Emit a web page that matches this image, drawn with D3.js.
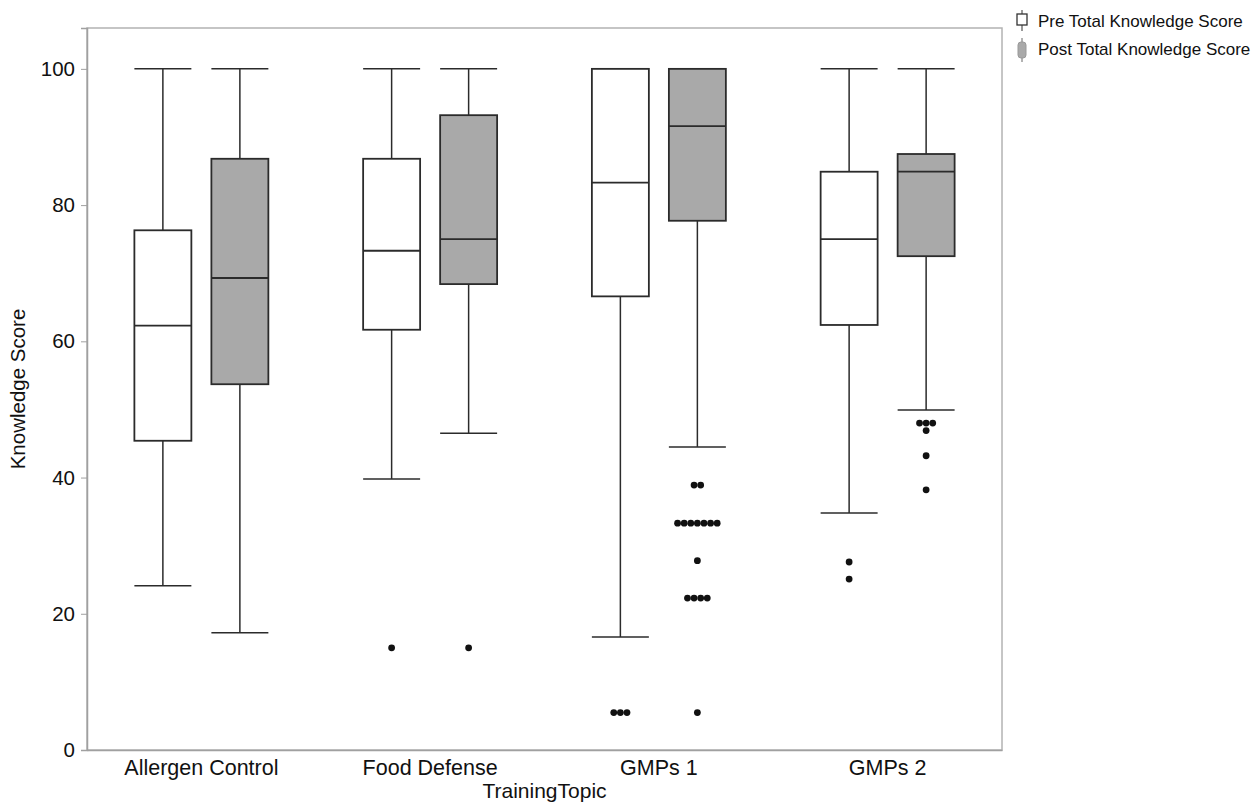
<!DOCTYPE html>
<html>
<head>
<meta charset="utf-8">
<script src="https://cdn.jsdelivr.net/npm/d3@7"></script>
<style>
  body { margin: 0; background: #fff; }
  text { font-family: "Liberation Sans", Arial, Helvetica, sans-serif; fill: #111; }
</style>
</head>
<body>
<svg id="chart" width="1256" height="805"></svg>
<script>
// categories and series
const topics = ["Allergen Control", "Food Defense", "GMPs 1", "GMPs 2"];
const series = ["Pre Total Knowledge Score", "Post Total Knowledge Score"];
const yTicks = [0, 20, 40, 60, 80, 100];

// box statistics, one value per topic
const preLow    = [24.1, 39.8, 16.6, 34.8];
const preQ1     = [45.4, 61.7, 66.6, 62.4];
const preMedian = [62.3, 73.3, 83.3, 75.0];
const preQ3     = [76.3, 86.8, 100, 84.9];
const preHigh   = [100, 100, 100, 100];
const preOutliers = [[], [15.0], [5.5, 5.5, 5.5], [27.6, 25.1]];

const postLow    = [17.2, 46.5, 44.5, 49.9];
const postQ1     = [53.7, 68.4, 77.7, 72.5];
const postMedian = [69.3, 75.0, 91.6, 84.9];
const postQ3     = [86.8, 93.2, 100, 87.5];
const postHigh   = [100, 100, 100, 100];
const postOutliers = [
  [],
  [15.0],
  [38.9, 38.9, 33.3, 33.3, 33.3, 33.3, 33.3, 33.3, 33.3, 27.8, 22.3, 22.3, 22.3, 22.3, 5.5],
  [48.0, 48.0, 48.0, 46.9, 43.2, 38.2]
];

const fills = ["#ffffff", "#a9a9a9"];

var svg = d3.select("#chart");
var margin = { left: 87, right: 254, top: 28, bottom: 55 };
var W = 1256, H = 805;

var x = d3.scaleBand().domain(topics).range([margin.left, W - margin.right]);
var bw = x.bandwidth();
var xs = d3.scaleBand().domain(series).range([bw / 2 - 77, bw / 2 + 77]);
var boxW = xs.bandwidth() * 0.74;
var y = d3.scaleLinear().domain([0, 106]).range([H - margin.bottom, margin.top]);

// frame
svg.append("rect")
  .attr("x", margin.left).attr("y", margin.top)
  .attr("width", W - margin.right - margin.left)
  .attr("height", H - margin.bottom - margin.top)
  .attr("fill", "none")
  .attr("stroke", "#b3b3b3")
  .attr("stroke-width", 1.5);

// axes
var yAxis = svg.append("g")
  .attr("transform", "translate(" + margin.left + ",0)")
  .call(d3.axisLeft(y).tickValues(yTicks).tickSize(6).tickPadding(6));
yAxis.select(".domain").attr("stroke", "#a0a0a0").attr("stroke-width", 1.5);
yAxis.selectAll(".tick line").attr("stroke", "#a0a0a0");
yAxis.selectAll(".tick text").style("font-size", "20.5px").style("fill", "#111");

var xAxis = svg.append("g")
  .attr("transform", "translate(0," + (H - margin.bottom) + ")")
  .call(d3.axisBottom(x).tickSize(0).tickPadding(10));
xAxis.select(".domain").attr("stroke", "#a0a0a0").attr("stroke-width", 1.5);
xAxis.selectAll(".tick text").style("font-size", "21.5px").style("fill", "#111");

// axis titles
svg.append("text")
  .attr("transform", "translate(25," + y(53) + ") rotate(-90)")
  .attr("text-anchor", "middle")
  .style("font-size", "20.5px")
  .text("Knowledge Score");
svg.append("text")
  .attr("x", (margin.left + W - margin.right) / 2)
  .attr("y", 798)
  .attr("text-anchor", "middle")
  .style("font-size", "21px")
  .text("TrainingTopic");

// build box rows
var boxes = [];
topics.forEach((t, i) => {
  boxes.push({ topic: t, s: 0, low: preLow[i], q1: preQ1[i], med: preMedian[i], q3: preQ3[i], high: preHigh[i], out: preOutliers[i] });
  boxes.push({ topic: t, s: 1, low: postLow[i], q1: postQ1[i], med: postMedian[i], q3: postQ3[i], high: postHigh[i], out: postOutliers[i] });
});

var stroke = "#2b2b2b";
var g = svg.append("g");
var bx = g.selectAll("g.box")
  .data(boxes)
  .enter()
  .append("g")
  .attr("class", "box")
  .attr("transform", (d) => "translate(" + (x(d.topic) + xs(series[d.s]) + xs.bandwidth() / 2) + ",0)");

// whiskers
bx.append("line")
  .attr("x1", 0).attr("x2", 0)
  .attr("y1", (d) => y(d.high)).attr("y2", (d) => y(d.q3))
  .attr("stroke", stroke).attr("stroke-width", 1.5);
bx.append("line")
  .attr("x1", 0).attr("x2", 0)
  .attr("y1", (d) => y(d.q1)).attr("y2", (d) => y(d.low))
  .attr("stroke", stroke).attr("stroke-width", 1.5);
bx.append("line")
  .attr("x1", -boxW / 2).attr("x2", boxW / 2)
  .attr("y1", (d) => y(d.high)).attr("y2", (d) => y(d.high))
  .attr("stroke", stroke).attr("stroke-width", 1.5);
bx.append("line")
  .attr("x1", -boxW / 2).attr("x2", boxW / 2)
  .attr("y1", (d) => y(d.low)).attr("y2", (d) => y(d.low))
  .attr("stroke", stroke).attr("stroke-width", 1.5);

// box
bx.append("rect")
  .attr("x", -boxW / 2)
  .attr("width", boxW)
  .attr("y", (d) => y(d.q3))
  .attr("height", (d) => y(d.q1) - y(d.q3))
  .attr("fill", (d) => fills[d.s])
  .attr("stroke", stroke).attr("stroke-width", 1.8);
bx.append("line")
  .attr("x1", -boxW / 2).attr("x2", boxW / 2)
  .attr("y1", (d) => y(d.med)).attr("y2", (d) => y(d.med))
  .attr("stroke", stroke).attr("stroke-width", 1.8);

// outliers: equal values are spread side by side
var spacing = 6.6;
bx.each(function (d) {
  var counts = d3.rollup(d.out, (v) => v.length, (v) => v);
  var seen = new Map();
  var pts = d.out.map((v) => {
    var k = seen.get(v) || 0;
    seen.set(v, k + 1);
    var n = counts.get(v);
    return { v: v, dx: (k - (n - 1) / 2) * spacing };
  });
  d3.select(this).selectAll("circle")
    .data(pts)
    .enter()
    .append("circle")
    .attr("cx", (p) => p.dx)
    .attr("cy", (p) => y(p.v))
    .attr("r", 3.4)
    .attr("fill", "#111");
});

// legend
var lg = svg.append("g").attr("transform", "translate(1022,0)");
lg.append("line").attr("x1", 0).attr("x2", 0).attr("y1", 10).attr("y2", 31)
  .attr("stroke", "#333").attr("stroke-width", 1);
lg.append("rect").attr("x", -5).attr("y", 14).attr("width", 10).attr("height", 11)
  .attr("fill", "#fff").attr("stroke", "#333").attr("stroke-width", 1.3);
lg.append("line").attr("x1", 0).attr("x2", 0).attr("y1", 38).attr("y2", 62)
  .attr("stroke", "#666").attr("stroke-width", 1);
lg.append("rect").attr("x", -4).attr("y", 42).attr("width", 8).attr("height", 16)
  .attr("rx", 3)
  .attr("fill", "#a9a9a9").attr("stroke", "#999").attr("stroke-width", 1);
lg.selectAll("text.leg")
  .data(series)
  .enter()
  .append("text")
  .attr("class", "leg")
  .attr("x", 16)
  .attr("y", (d, i) => 27 + i * 28)
  .style("font-size", "17px")
  .text((d) => d);
</script>
</body>
</html>
